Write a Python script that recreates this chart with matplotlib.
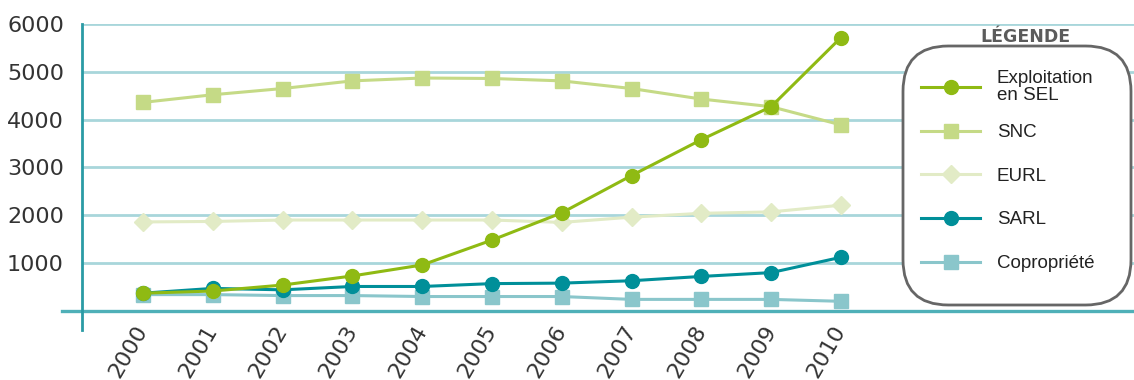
import matplotlib
matplotlib.use('Agg')
import matplotlib.pyplot as plt
from matplotlib.patches import FancyBboxPatch

#--data--
years = [2000, 2001, 2002, 2003, 2004, 2005, 2006, 2007, 2008, 2009, 2010]
sel = [370, 415, 540, 730, 960, 1480, 2050, 2830, 3580, 4270, 5715]
snc = [4360, 4520, 4650, 4810, 4870, 4860, 4810, 4650, 4430, 4270, 3890]
eurl = [1860, 1870, 1900, 1900, 1900, 1900, 1850, 1960, 2040, 2070, 2210]
sarl = [370, 470, 440, 510, 510, 570, 580, 630, 720, 800, 1120]
copro = [340, 340, 320, 320, 300, 300, 300, 240, 240, 240, 200]
y_ticks = [1000, 2000, 3000, 4000, 5000, 6000]
labels = ['Exploitation\nen SEL', 'SNC', 'EURL', 'SARL', 'Copropriété']

#--style--
c_sel = '#8fba13'
c_snc = '#c5da86'
c_eurl = '#e2ebc6'
c_sarl = '#008f99'
c_copro = '#8ac6cb'
c_grid = '#a8d6db'
c_axis = '#2a9ba5'
leg_font = {'family': ['Liberation Sans', 'DejaVu Sans'], 'size': 13.5}

fig = plt.figure(figsize=(11.34, 3.8), dpi=100)
ax = fig.add_axes([0.0723, 0.1316, 0.9277, 0.8053])

ax.set_xlim(1999.126, 2014.2)
ax.set_ylim(-400, 6000)

for v in y_ticks:
    ax.axhline(v, color=c_grid, lw=2, zorder=1)
ax.axhline(0, xmin=-0.019, xmax=1, color='#4fb0b8', lw=2.4, zorder=2, clip_on=False)

lw = 2.2
l_copro, = ax.plot(years, copro, color=c_copro, lw=lw, marker='s', ms=10, zorder=3)
l_sarl, = ax.plot(years, sarl, color=c_sarl, lw=lw, marker='o', ms=10, zorder=4)
l_eurl, = ax.plot(years, eurl, color=c_eurl, lw=lw, marker='D', ms=9, zorder=5)
l_snc, = ax.plot(years, snc, color=c_snc, lw=lw, marker='s', ms=10, zorder=6)
l_sel, = ax.plot(years, sel, color=c_sel, lw=lw, marker='o', ms=10, zorder=7)

for s in ['top', 'right', 'bottom']:
    ax.spines[s].set_visible(False)
ax.spines['left'].set_color(c_axis)
ax.spines['left'].set_linewidth(2)

ax.set_yticks(y_ticks)
ax.set_yticklabels([str(v) for v in y_ticks])
ax.set_xticks(years)
ax.set_xticklabels([str(y) for y in years], rotation=60, ha='right',
                   va='center', rotation_mode='anchor')
ax.tick_params(axis='y', length=0, pad=13, labelsize=16, labelcolor='#333333')
ax.tick_params(axis='x', length=0, pad=-2, labelsize=16, labelcolor='#333333')

#--legend--
box = FancyBboxPatch((903/1134, 1-305/380), 228/1134, 259/380,
                     boxstyle='round,pad=0,rounding_size=0.04',
                     transform=fig.transFigure, fc='white', ec='#666666',
                     lw=2, zorder=10, mutation_aspect=1134/380)
fig.patches.append(box)
fig.text(1025/1134, 1-37/380, 'LÉGENDE', ha='center', va='center',
         fontsize=12.5, fontweight='bold', color='#5b5b5b')

# first entry on its own so the two-line label does not push the others down
leg1 = fig.legend([l_sel], labels[:1], loc='center left',
                  bbox_to_anchor=(921/1134, 1-87/380), frameon=False,
                  handlelength=3.15, handletextpad=0.9, borderpad=0,
                  borderaxespad=0, prop=leg_font)
leg2 = fig.legend([l_snc, l_eurl, l_sarl, l_copro], labels[1:],
                  loc='upper left', bbox_to_anchor=(921/1134, 1-124/380),
                  frameon=False, handlelength=3.15, handletextpad=0.9,
                  labelspacing=1.415, borderpad=0, borderaxespad=0, prop=leg_font)
for leg in [leg1, leg2]:
    leg.set_zorder(11)
    for t in leg.get_texts():
        t.set_color('#222222')
        t.set_linespacing(1.0)

fig.savefig('out.png', dpi=100)
